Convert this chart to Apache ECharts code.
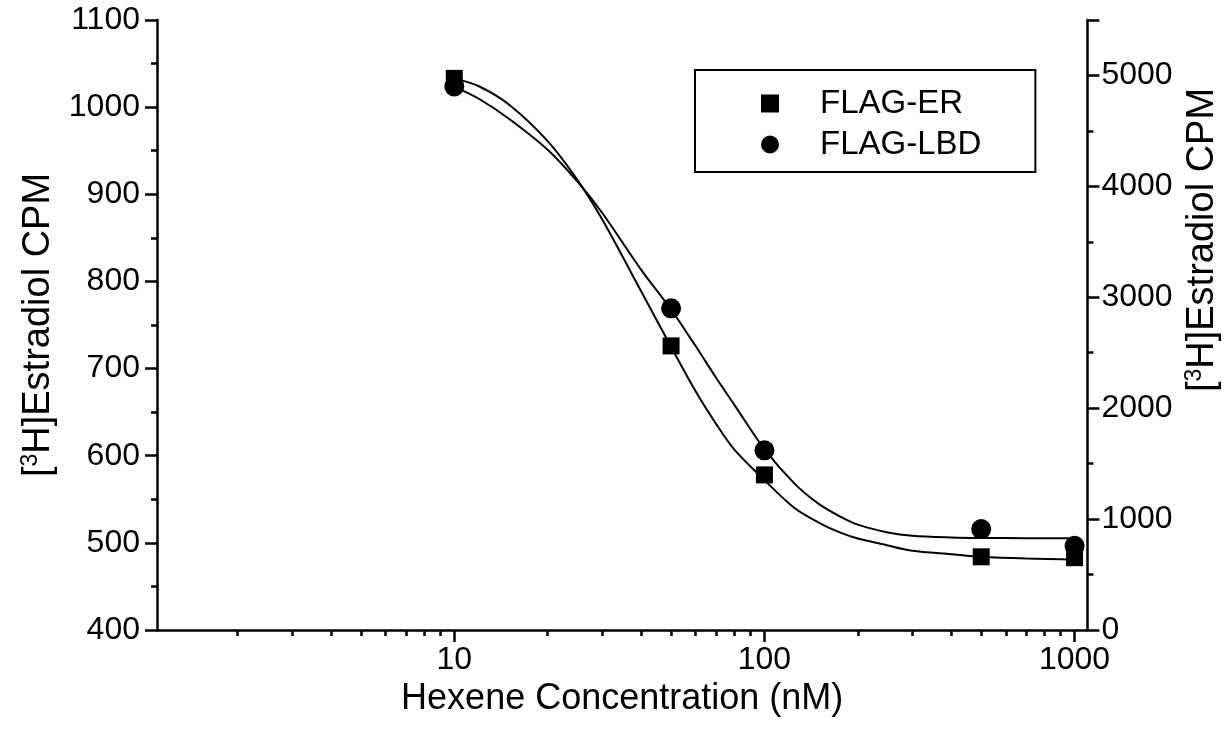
<!DOCTYPE html>
<html>
<head>
<meta charset="utf-8">
<script src="https://cdn.jsdelivr.net/npm/echarts@6/dist/echarts.min.js"></script>
<style>
  html, body { margin: 0; padding: 0; background: #fff; }
  #chart { width: 1230px; height: 733px; }
</style>
</head>
<body>
<div id="chart"></div>
<script>
// Hexene concentrations (nM) for the measured points
const concentrations = [10, 50, 100, 500, 1000];
// FLAG-ER counts (left axis) and FLAG-LBD counts (right axis)
const flagER = [1033, 726, 578, 484, 483];
const flagLBD = [4900, 2900, 1620, 910, 760];

// Sigmoidal fit curves, sampled along the concentration axis
const fitX = [10, 12, 15, 20, 25, 30, 40, 50, 60, 70, 80, 100, 125, 150, 175, 200, 250, 300, 400, 500, 700, 1000];
const fitER = [1033, 1024, 1003, 961, 916, 871, 789, 725, 674, 636, 607, 572, 540, 523, 512, 505, 497, 491, 487, 484, 482, 481];
const fitLBD = [4900, 4790, 4610, 4330, 4040, 3760, 3250, 2890, 2560, 2270, 2030, 1630, 1320, 1135, 1025, 950, 880, 850, 835, 830, 828, 827];

// Axis tick values
const xMajorTicks = [10, 100, 1000];
const xMinorTicks = [2, 3, 4, 5, 6, 7, 8, 9, 20, 30, 40, 50, 60, 70, 80, 90, 200, 300, 400, 500, 600, 700, 800, 900];

const pairs = (xs, ys) => xs.map((x, i) => [x, ys[i]]);
const plain = (v) => String(Math.round(v));

const FONT = '"Liberation Sans", Arial, Helvetica, sans-serif';
const axisLine = { show: true, lineStyle: { color: '#000', width: 2.5 } };
const titleRich = {
  sup: { fontSize: 23, fontFamily: FONT, color: '#000', padding: [0, 0, 16, 0] }
};

const chart = echarts.init(document.getElementById('chart'), null, { renderer: 'canvas' });

chart.setOption({
  backgroundColor: '#fff',
  animation: false,
  textStyle: { fontFamily: FONT, color: '#000' },
  grid: { left: 157, right: 130, top: 20, bottom: 103, containLabel: false },
  legend: {
    orient: 'vertical',
    left: 695,
    top: 70,
    data: [
      { name: 'FLAG-ER', icon: 'rect' },
      { name: 'FLAG-LBD', icon: 'circle' }
    ],
    itemWidth: 18,
    itemHeight: 18,
    itemGap: 8,
    padding: [17, 54, 11, 66],
    borderColor: '#000',
    borderWidth: 2,
    textStyle: { fontSize: 33, fontFamily: FONT, color: '#000', padding: [0, 0, 0, 36] }
  },
  xAxis: [
    {
      type: 'log',
      min: 1.1,
      max: 1100,
      name: 'Hexene Concentration (nM)',
      nameLocation: 'middle',
      nameGap: 46,
      nameTextStyle: { fontSize: 36, fontFamily: FONT, color: '#000' },
      axisLine: axisLine,
      axisTick: { show: true, inside: false, length: 12, lineStyle: { color: '#000', width: 2.5 }, customValues: xMajorTicks },
      axisLabel: { fontSize: 32, fontFamily: FONT, color: '#000', margin: 14, customValues: xMajorTicks, formatter: plain },
      splitLine: { show: false },
      minorTick: { show: false }
    },
    {
      type: 'log',
      min: 1.1,
      max: 1100,
      position: 'bottom',
      axisLine: { show: false },
      axisTick: { show: true, inside: false, length: 6, lineStyle: { color: '#000', width: 2.5 }, customValues: xMinorTicks },
      axisLabel: { show: false },
      splitLine: { show: false }
    }
  ],
  yAxis: [
    {
      type: 'value',
      position: 'left',
      min: 400,
      max: 1100,
      interval: 100,
      name: '[{sup|3}H]Estradiol CPM',
      nameLocation: 'middle',
      nameRotate: 90,
      nameGap: 88,
      nameTextStyle: { fontSize: 38, fontFamily: FONT, color: '#000', rich: titleRich },
      axisLine: axisLine,
      axisTick: { show: true, inside: false, length: 12, lineStyle: { color: '#000', width: 2.5 } },
      minorTick: { show: true, splitNumber: 2, length: 6, lineStyle: { color: '#000', width: 2.5 } },
      axisLabel: { fontSize: 32, fontFamily: FONT, color: '#000', margin: 17, formatter: plain },
      splitLine: { show: false }
    },
    {
      type: 'value',
      position: 'right',
      min: 0,
      max: 5500,
      interval: 1000,
      name: '[{sup|3}H]Estradiol CPM',
      nameLocation: 'middle',
      nameRotate: 90,
      nameGap: 87,
      nameTextStyle: { fontSize: 38, fontFamily: FONT, color: '#000', rich: titleRich, padding: [0, 0, 0, 170] },
      axisLine: axisLine,
      axisTick: { show: true, inside: false, length: 12, lineStyle: { color: '#000', width: 2.5 } },
      minorTick: { show: true, splitNumber: 2, length: 6, lineStyle: { color: '#000', width: 2.5 } },
      axisLabel: { fontSize: 32, fontFamily: FONT, color: '#000', margin: 14, showMaxLabel: false, formatter: plain },
      splitLine: { show: false }
    }
  ],
  series: [
    {
      name: 'FLAG-ER fit',
      type: 'line',
      xAxisIndex: 0,
      yAxisIndex: 0,
      data: pairs(fitX, fitER),
      smooth: 0.3,
      showSymbol: false,
      lineStyle: { color: '#000', width: 2 },
      silent: true,
      z: 2
    },
    {
      name: 'FLAG-LBD fit',
      type: 'line',
      xAxisIndex: 0,
      yAxisIndex: 1,
      data: pairs(fitX, fitLBD),
      smooth: 0.3,
      showSymbol: false,
      lineStyle: { color: '#000', width: 2 },
      silent: true,
      z: 2
    },
    {
      name: 'FLAG-ER',
      type: 'scatter',
      xAxisIndex: 0,
      yAxisIndex: 0,
      symbol: 'rect',
      symbolSize: 17,
      itemStyle: { color: '#000', opacity: 1 },
      data: pairs(concentrations, flagER),
      z: 3
    },
    {
      name: 'FLAG-LBD',
      type: 'scatter',
      xAxisIndex: 0,
      yAxisIndex: 1,
      symbol: 'circle',
      symbolSize: 20,
      itemStyle: { color: '#000', opacity: 1 },
      data: pairs(concentrations, flagLBD),
      z: 3
    }
  ]
});
</script>
</body>
</html>
